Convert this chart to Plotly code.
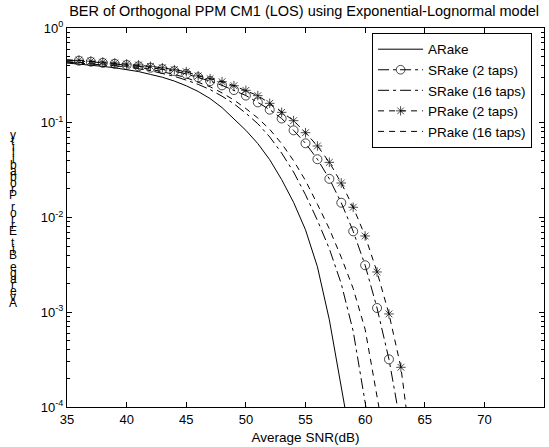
import plotly.graph_objects as go

# ---------------- data (log10 of BER) ----------------
snr_arake = [35, 36, 37, 38, 39, 40, 41, 42, 43, 44, 45, 46, 47, 48, 49, 50,
             51, 52, 53, 54, 55, 56, 57, 58, 59]
log_arake = [-0.37, -0.38, -0.39, -0.405, -0.42, -0.44, -0.46, -0.49, -0.52, -0.56,
             -0.61, -0.67, -0.745, -0.84, -0.955, -1.08, -1.22, -1.39, -1.6, -1.84,
             -2.13, -2.52, -3.08, -3.78, -4.5]

snr_srake2 = [35, 36, 37, 38, 39, 40, 41, 42, 43, 44, 45, 46, 47, 48, 49, 50,
              51, 52, 53, 54, 55, 56, 57, 58, 59, 60, 61, 62, 63]
log_srake2 = [-0.34, -0.345, -0.356, -0.368, -0.378, -0.39, -0.404, -0.419, -0.433,
              -0.455, -0.485, -0.52, -0.56, -0.605, -0.655, -0.713, -0.785, -0.862,
              -0.955, -1.08, -1.217, -1.385, -1.592, -1.844, -2.146, -2.504, -2.955,
              -3.497, -4.2]

snr_srake16 = [35, 36, 37, 38, 39, 40, 41, 42, 43, 44, 45, 46, 47, 48, 49, 50,
               51, 52, 53, 54, 55, 56, 57, 58, 59, 60, 61]
log_srake16 = [-0.36, -0.37, -0.375, -0.385, -0.40, -0.41, -0.43, -0.45, -0.48, -0.51,
               -0.55, -0.595, -0.65, -0.72, -0.80, -0.90, -1.01, -1.15, -1.32, -1.52,
               -1.76, -2.03, -2.33, -2.7, -3.2, -3.9, -4.7]

snr_prake2 = [35, 36, 37, 38, 39, 40, 41, 42, 43, 44, 45, 46, 47, 48, 49, 50,
              51, 52, 53, 54, 55, 56, 57, 58, 59, 60, 61, 62, 63, 64]
log_prake2 = [-0.335, -0.34, -0.35, -0.36, -0.37, -0.38, -0.39, -0.405, -0.42, -0.44,
              -0.461, -0.505, -0.535, -0.567, -0.609, -0.658, -0.714, -0.795, -0.89,
              -0.978, -1.105, -1.245, -1.418, -1.636, -1.892, -2.195, -2.575, -3.018,
              -3.581, -4.56]

snr_prake16 = [35, 36, 37, 38, 39, 40, 41, 42, 43, 44, 45, 46, 47, 48, 49, 50,
               51, 52, 53, 54, 55, 56, 57, 58, 59, 60, 61, 62]
log_prake16 = [-0.355, -0.36, -0.37, -0.38, -0.39, -0.40, -0.415, -0.435, -0.46, -0.49,
               -0.525, -0.57, -0.62, -0.685, -0.76, -0.85, -0.95, -1.07, -1.22, -1.40,
               -1.61, -1.86, -2.12, -2.42, -2.75, -3.18, -3.85, -4.6]

series_names = ["ARake", "SRake (2 taps)", "SRake (16 taps)", "PRake (2 taps)", "PRake (16 taps)"]
x_ticks = [35, 40, 45, 50, 55, 60, 65, 70, 75]
y_tickvals = [1e-4, 1e-3, 1e-2, 1e-1, 1]
y_ticktext = ["10<sup>-4</sup>", "10<sup>-3</sup>", "10<sup>-2</sup>", "10<sup>-1</sup>", "10<sup>0</sup>"]
title_text = "BER of Orthogonal PPM CM1 (LOS) using Exponential-Lognormal model"
x_title = "Average SNR(dB)"
y_title = "Average Bit Error Probability"

FONT = "Liberation Sans, Arial, sans-serif"
DASHDOT = "11px,4px,3px,4px"
DASHED = "6px,5px"


def tolin(vals):
    return [10 ** v for v in vals]


fig = go.Figure()
fig.add_trace(go.Scatter(x=snr_arake, y=tolin(log_arake), mode="lines", name=series_names[0],
                         line=dict(color="black", width=1)))
fig.add_trace(go.Scatter(x=snr_srake2, y=tolin(log_srake2), mode="lines+markers", name=series_names[1],
                         line=dict(color="black", width=1, dash=DASHDOT),
                         marker=dict(symbol="circle-open", size=[0] + [9] * (len(snr_srake2) - 1),
                                     color="black", line=dict(width=1, color="black"))))
fig.add_trace(go.Scatter(x=snr_srake16, y=tolin(log_srake16), mode="lines", name=series_names[2],
                         line=dict(color="black", width=1, dash=DASHDOT)))
fig.add_trace(go.Scatter(x=snr_prake2, y=tolin(log_prake2), mode="lines+markers", name=series_names[3],
                         line=dict(color="black", width=1, dash=DASHED),
                         marker=dict(symbol="asterisk-open", size=[0] + [8] * (len(snr_prake2) - 1),
                                     color="black", line=dict(width=1, color="black"))))
fig.add_trace(go.Scatter(x=snr_prake16, y=tolin(log_prake16), mode="lines", name=series_names[4],
                         line=dict(color="black", width=1, dash=DASHED)))

L, R, T, B = 67, 5, 28, 40
W, H = 549, 447
ph = H - T - B

fig.update_layout(
    width=W, height=H,
    margin=dict(l=L, r=R, t=T, b=B),
    paper_bgcolor="white", plot_bgcolor="white",
    font=dict(family=FONT, size=13, color="black"),
    title=dict(text=title_text, x=0.497, xanchor="center", xref="paper", y=1 - 11 / H, yanchor="middle",
               font=dict(family=FONT, size=14.5, color="black")),
    showlegend=True,
    legend=dict(x=0.975, y=0.987, xanchor="right", yanchor="top",
                bordercolor="black", borderwidth=1, bgcolor="white",
                font=dict(family=FONT, size=13.5, color="black"),
                itemwidth=45, tracegroupgap=0),
    xaxis=dict(range=[35, 75], tickvals=x_ticks, ticks="inside", ticklen=5,
               showline=True, linecolor="black", linewidth=1, mirror="allticks",
               showgrid=False, zeroline=False, tickcolor="black",
               title=dict(text=x_title, standoff=6, font=dict(size=13.5)),
               tickfont=dict(size=13)),
    yaxis=dict(type="log", range=[-4, 0], tickvals=y_tickvals, ticktext=y_ticktext,
               ticks="inside", ticklen=5, tickcolor="black",
               showline=True, linecolor="black", linewidth=1, mirror="allticks",
               showgrid=False, zeroline=False, tickfont=dict(size=13),
               minor=dict(dtick="D1", ticks="inside", ticklen=3, tickcolor="black", showgrid=False)),
)

# y-axis title: characters stacked upright, reversed order (as in the reference)
chars = list(y_title)[::-1]
y_top_px, y_bot_px = 135, 303
n = len(chars)
for i, ch in enumerate(chars):
    ypx = y_top_px + (y_bot_px - y_top_px) * i / (n - 1)
    yp = (H - B - ypx) / ph
    if ch == " ":
        continue
    fig.add_annotation(text=ch, xref="paper", yref="paper", x=(13 - L) / (W - L - R), y=yp,
                       xanchor="center", yanchor="middle", showarrow=False,
                       font=dict(family=FONT, size=12, color="black"))

fig.write_html("out.html")
